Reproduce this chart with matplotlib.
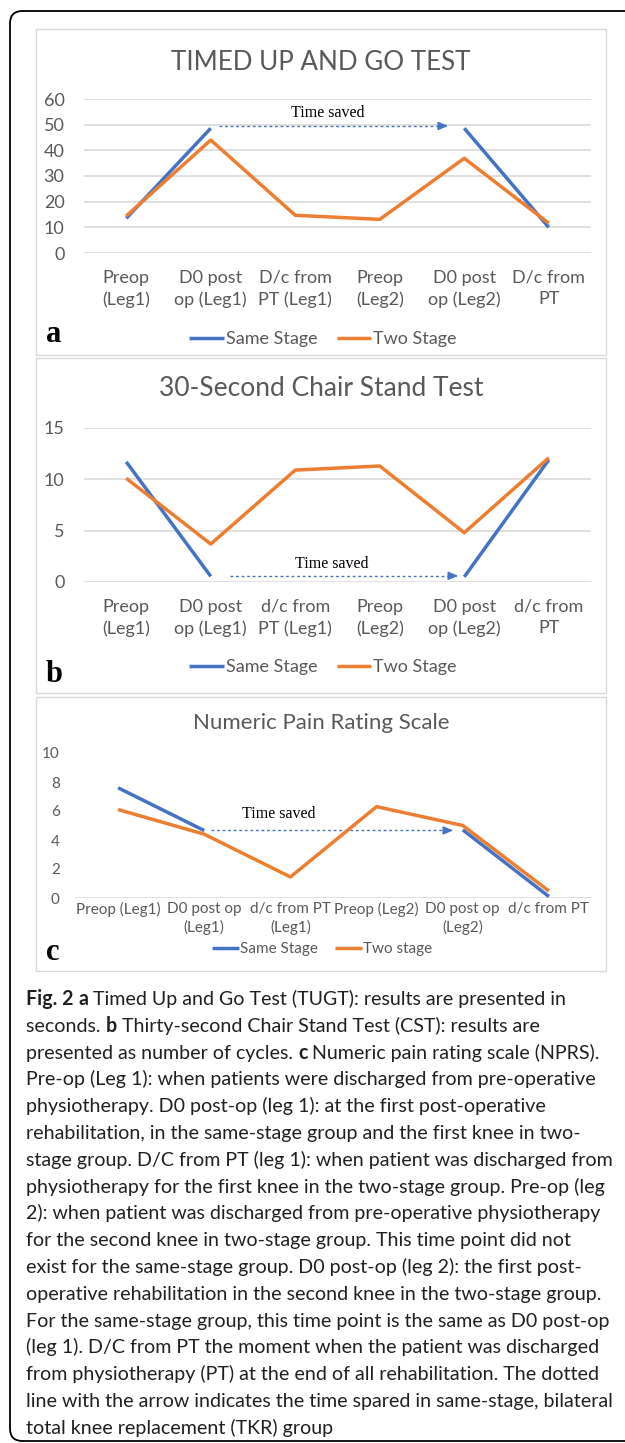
import numpy as np
import matplotlib
matplotlib.use('Agg')
from matplotlib import pyplot as plt
from matplotlib.patches import FancyBboxPatch, Rectangle
from matplotlib.transforms import ScaledTranslation

W, H = 625, 1443

same_c = '#4472C4'
two_c = '#ED7D31'
grid_c = '#D9D9D9'
txt_c = '#595959'
chart_font = 'Lato'
cap_font = 'Lato'

# a: Timed Up and Go
tugt_labels = ['Preop\n(Leg1)', 'D0 post\nop (Leg1)', 'D/c from\nPT (Leg1)',
               'Preop\n(Leg2)', 'D0 post\nop (Leg2)', 'D/c from\nPT']
tugt_same = [13.5, 48.6, np.nan, np.nan, 48.6, 10.0]
tugt_two = [14.4, 44.0, 14.7, 13.1, 36.9, 11.6]
tugt_yticks = [0, 10, 20, 30, 40, 50, 60]
tugt_arrow = [1.10, 3.81, 49.5]      # x start, x end, y
tugt_note = [2.38, 54.5]

# b: 30-second chair stand
cst_labels = ['Preop\n(Leg1)', 'D0 post\nop (Leg1)', 'd/c from\nPT (Leg1)',
              'Preop\n(Leg2)', 'D0 post\nop (Leg2)', 'd/c from\nPT']
cst_same = [11.7, 0.55, np.nan, np.nan, 0.5, 11.9]
cst_two = [10.1, 3.7, 10.9, 11.3, 4.8, 12.1]
cst_yticks = [0, 5, 10, 15]
cst_arrow = [1.23, 3.93, 0.6]
cst_note = [2.43, 1.8]

# c: numeric pain rating
nprs_labels = ['Preop (Leg1)', 'D0 post op\n(Leg1)', 'd/c from PT\n(Leg1)',
               'Preop (Leg2)', 'D0 post op\n(Leg2)', 'd/c from PT']
nprs_same = [7.6, 4.65, np.nan, np.nan, 4.7, 0.1]
nprs_two = [6.1, 4.4, 1.45, 6.3, 5.0, 0.48]
nprs_yticks = [0, 2, 4, 6, 8, 10]
nprs_arrow = [1.08, 3.89, 4.66]
nprs_note = [1.87, 5.8]

caption = [
    [('Fig. 2', 1), (' ', 0), ('a', 1), (' Timed Up and Go Test (TUGT): results are presented in', 0)],
    [('seconds. ', 0), ('b', 1), (' Thirty-second Chair Stand Test (CST): results are', 0)],
    [('presented as number of cycles. ', 0), ('c', 1), (' Numeric pain rating scale (NPRS).', 0)],
    [('Pre-op (Leg 1): when patients were discharged from pre-operative', 0)],
    [('physiotherapy. D0 post-op (leg 1): at the first post-operative', 0)],
    [('rehabilitation, in the same-stage group and the first knee in two-', 0)],
    [('stage group. D/C from PT (leg 1): when patient was discharged from', 0)],
    [('physiotherapy for the first knee in the two-stage group. Pre-op (leg', 0)],
    [('2): when patient was discharged from pre-operative physiotherapy', 0)],
    [('for the second knee in two-stage group. This time point did not', 0)],
    [('exist for the same-stage group. D0 post-op (leg 2): the first post-', 0)],
    [('operative rehabilitation in the second knee in the two-stage group.', 0)],
    [('For the same-stage group, this time point is the same as D0 post-op', 0)],
    [('(leg 1). D/C from PT the moment when the patient was discharged', 0)],
    [('from physiotherapy (PT) at the end of all rehabilitation. The dotted', 0)],
    [('line with the arrow indicates the time spared in same-stage, bilateral', 0)],
    [('total knee replacement (TKR) group', 0)],
]

fig = plt.figure(figsize=(W / 100, H / 100), dpi=100)


def fx(x):
    return x / W


def fy(y):
    return 1 - y / H


def box_px(l, t, r, b, **kw):
    p = Rectangle((fx(l), fy(b)), fx(r) - fx(l), fy(t) - fy(b), transform=fig.transFigure,
                  fill=False, **kw)
    fig.patches.append(p)


# outer rounded frame
frame = FancyBboxPatch((fx(10), fy(1441)), fx(700) - fx(10), fy(11) - fy(1441),
                       boxstyle='round,pad=0,rounding_size=0.02', transform=fig.transFigure,
                       fill=False, ec='black', lw=1.3, mutation_aspect=W / H)
fig.patches.append(frame)


def panel(box, area, title, title_y, title_fs, labels, same, two, yticks, arrow, note,
          leg_y, leg_names, letter, letter_y, tick_fs, xpad, ypad, grid=True, lsp=1.4,
          last_fs=None, lab_dx=0, hlen=1.9, leg_x=323):
    box_px(*box, ec=grid_c, lw=1)
    l, t, r, b = area
    ax = fig.add_axes([fx(l), fy(b), fx(r) - fx(l), fy(t) - fy(b)])
    x = np.arange(len(labels))
    ax.set_xlim(-0.5, len(labels) - 0.5)
    ax.set_ylim(yticks[0], yticks[-1])
    ax.set_yticks(yticks)
    ax.set_xticks(x)
    ax.set_xticklabels(labels, fontsize=tick_fs, family=chart_font, color=txt_c, linespacing=lsp)
    if last_fs:
        ax.get_xticklabels()[-1].set_fontsize(last_fs)
    if lab_dx:
        off = ScaledTranslation(lab_dx / 100, 0, fig.dpi_scale_trans)
        for lab in ax.get_xticklabels():
            lab.set_transform(lab.get_transform() + off)
    for lab in ax.get_yticklabels():
        lab.set_family(chart_font)
    ax.tick_params(axis='both', length=0, colors=txt_c, labelsize=tick_fs)
    ax.tick_params(axis='x', pad=xpad)
    ax.tick_params(axis='y', pad=ypad)
    for s in ax.spines.values():
        s.set_visible(False)
    if grid:
        ax.yaxis.grid(True, color=grid_c, lw=1.2)
    else:
        ax.axhline(yticks[0], color=grid_c, lw=1.2)
    ax.set_axisbelow(True)
    ax.patch.set_alpha(0)
    h1, = ax.plot(x, same, color=same_c, lw=2.5, solid_capstyle='butt', zorder=3)
    h2, = ax.plot(x, two, color=two_c, lw=2.5, solid_capstyle='butt', zorder=3)
    # time saved arrow
    ax.plot([arrow[0], arrow[1] - 0.08], [arrow[2], arrow[2]], color=same_c, lw=1,
            ls=(0, (2, 2)), zorder=2)
    ax.annotate('', xy=(arrow[1], arrow[2]), xytext=(arrow[1] - 0.1, arrow[2]),
                arrowprops=dict(arrowstyle='-|>,head_length=0.6,head_width=0.25',
                                color=same_c, lw=1, shrinkA=0, shrinkB=0))
    ax.text(note[0], note[1], 'Time saved', ha='center', va='center',
            family='Liberation Serif', fontsize=11.5, color='black')
    fig.text(fx(321), fy(title_y), title, ha='center', va='center', family=chart_font,
             fontsize=title_fs, color=txt_c)
    fig.legend([h1, h2], leg_names, loc='center', bbox_to_anchor=(fx(leg_x), fy(leg_y)),
               ncol=2, frameon=False, handlelength=hlen, handletextpad=0.1, columnspacing=1.1,
               prop=dict(family=chart_font, size=tick_fs), labelcolor=txt_c)
    fig.text(fx(46), fy(letter_y), letter, ha='left', va='center', family='Liberation Serif',
             fontweight='bold', fontsize=22, color='black')
    return ax


panel((36, 29, 606, 355), (84, 99, 591, 253), 'TIMED UP AND GO TEST', 63, 18.7,
      tugt_labels, tugt_same, tugt_two, tugt_yticks, tugt_arrow, tugt_note,
      339, ['Same Stage', 'Two Stage'], 'a', 334, 13, 12, 14)
panel((36, 358, 606, 693), (84, 428, 591, 582), '30-Second Chair Stand Test', 388, 19,
      cst_labels, cst_same, cst_two, cst_yticks, cst_arrow, cst_note,
      667, ['Same Stage', 'Two Stage'], 'b', 674, 13, 12, 14)
panel((36, 697, 606, 971), (75, 753, 592, 898), 'Numeric Pain Rating Scale', 723, 16,
      nprs_labels, nprs_same, nprs_two, nprs_yticks, nprs_arrow, nprs_note,
      949, ['Same Stage', 'Two stage'], 'c', 952, 11, 3, 11, grid=False, lsp=1.35,
      last_fs=12.5, lab_dx=5, hlen=1.75, leg_x=322)

# caption
renderer = fig.canvas.get_renderer()
for i, line in enumerate(caption):
    yb = fy(1005 + i * 26.8)
    x0 = fx(26)
    for txt, bold in line:
        t = fig.text(x0, yb, txt, ha='left', va='baseline', family=cap_font, fontsize=14.15,
                     fontweight='bold' if bold else 'normal', color='#231F20')
        bb = t.get_window_extent(renderer)
        x0 = bb.x1 / W

fig.savefig('out.png', dpi=100)
